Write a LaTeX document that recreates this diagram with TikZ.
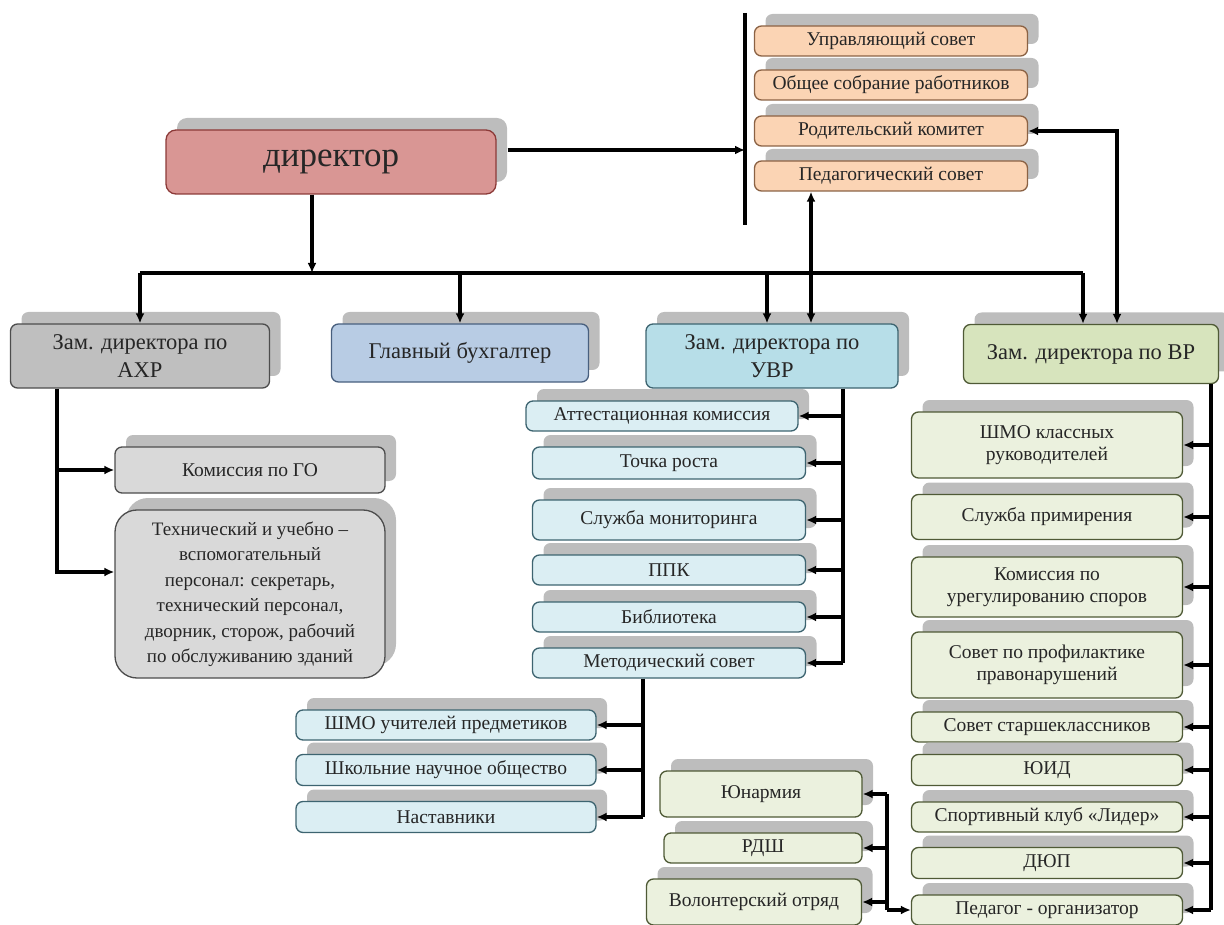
\documentclass[tikz,border=0pt]{standalone}
\usepackage{fontspec}
\setmainfont{Liberation Serif}
\usetikzlibrary{shadows,arrows.meta}
\definecolor{shgray}{HTML}{BDBDBD}
\definecolor{txt}{HTML}{262626}
\definecolor{dirfill}{HTML}{D99694}
\definecolor{dirline}{HTML}{8C3A38}
\definecolor{sovfill}{HTML}{FBD4B4}
\definecolor{sovline}{HTML}{8B6244}
\definecolor{ahrfill}{HTML}{BFBFBF}
\definecolor{ahrline}{HTML}{4D4D4D}
\definecolor{greyfill}{HTML}{D9D9D9}
\definecolor{bufill}{HTML}{B8CCE4}
\definecolor{buline}{HTML}{485F7E}
\definecolor{uvrfill}{HTML}{B7DEE8}
\definecolor{uvrline}{HTML}{3D6470}
\definecolor{bluefill}{HTML}{DBEEF3}
\definecolor{vrfill}{HTML}{D7E4BD}
\definecolor{vrline}{HTML}{4F5A36}
\definecolor{greenfill}{HTML}{EBF1DE}

\begin{document}
\begin{tikzpicture}[x=1pt,y=-1pt,
  box/.style={draw, line width=1.3pt, rounded corners=7pt, align=center, text=txt, inner sep=2pt,
    drop shadow={shadow xshift=11pt, shadow yshift=12pt, fill=shgray, opacity=1}},
  sz/.style 2 args={minimum width=#1, minimum height=#2},
  small/.style={box, font=\fontsize{19.5}{22}\selectfont},
  big/.style={box, font=\fontsize{22.5}{28}\selectfont},
  ln/.style={line width=3.2pt},
  arr/.style={line width=3.2pt, -{Latex[length=10pt,width=9pt]}},
  dbl/.style={line width=3.2pt, {Latex[length=10pt,width=9pt]}-{Latex[length=10pt,width=9pt]}}]
\useasboundingbox (0,0) rectangle (1224,925);

% director
\node[box, fill=dirfill, draw=dirline, rounded corners=10pt, sz={330pt}{64pt}, font=\fontsize{35}{38}\selectfont] (dir) at (331,162) {директор};

% councils
\node[small, fill=sovfill, draw=sovline, sz={273pt}{30pt}] (us) at (891,41) {Управляющий совет};
\node[small, fill=sovfill, draw=sovline, sz={273pt}{30pt}] (os) at (891,85) {Общее собрание работников};
\node[small, fill=sovfill, draw=sovline, sz={273pt}{30pt}] (rk) at (891,131) {Родительский комитет};
\node[small, fill=sovfill, draw=sovline, sz={273pt}{30pt}] (ps) at (891,176) {Педагогический совет};
\coordinate (bartop) at (745,13);
\coordinate (barbot) at (745,225);
\draw[ln] (bartop) -- (barbot);
\draw[arr] ([shift={(11pt,12pt)}]dir.east) -- ([yshift=12pt]dir.east -| bartop);

% deputies
\node[big, fill=ahrfill, draw=ahrline, sz={259pt}{64pt}] (ahr) at (140,356) {Зам. директора по\\АХР};
\node[big, fill=bufill, draw=buline, sz={257pt}{58pt}] (gb) at (460,353) {Главный бухгалтер};
\node[big, fill=uvrfill, draw=uvrline, sz={252pt}{64pt}] (uvr) at (772,356) {Зам. директора по\\УВР};
\node[big, fill=vrfill, draw=vrline, sz={255pt}{59pt}] (vr) at (1091,354) {Зам. директора по ВР};

\coordinate (bus) at (312,273);
\draw[arr] ([xshift=-19pt]dir.south) -- (bus);
\draw[ln] (ahr.north |- bus) -- ([xshift=-8pt]vr.north |- bus);
\draw[arr] (ahr.north |- bus) -- (ahr.north);
\draw[arr] (gb.north |- bus) -- (gb.north);
\draw[arr] ([xshift=-5pt]uvr.north |- bus) -- ([xshift=-5pt]uvr.north);
\draw[arr] ([xshift=-8pt]vr.north |- bus) -- ([xshift=-8pt]vr.north);
\draw[dbl] ([xshift=39pt]uvr.north) -- ([xshift=39pt]uvr.north |- ps.south);
\draw[dbl] ([xshift=26pt]vr.north) |- (rk.east);

% AHR
\node[small, fill=greyfill, draw=ahrline, sz={270pt}{46pt}] (go) at (250,470) {Комиссия по ГО};
\node[small, fill=greyfill, draw=ahrline, rounded corners=22pt, sz={270pt}{168pt}, font=\fontsize{19}{25.5}\selectfont] (tp) at (250,594) {Технический и учебно –\\вспомогательный\\персонал: секретарь,\\технический персонал,\\дворник, сторож, рабочий\\по обслуживанию зданий};
\draw[arr] ([xshift=-83pt]ahr.south) |- ([yshift=22pt]tp.west);
\draw[arr] ([xshift=-83pt]ahr.south |- go.west) -- (go.west);

% UVR
\node[small, fill=bluefill, draw=uvrline, sz={272pt}{30pt}] (att) at (662,416) {Аттестационная комиссия};
\node[small, fill=bluefill, draw=uvrline, sz={273pt}{32pt}] (tr) at (669,463) {Точка роста};
\node[small, fill=bluefill, draw=uvrline, sz={273pt}{40pt}] (sm) at (669,520) {Служба мониторинга};
\node[small, fill=bluefill, draw=uvrline, sz={273pt}{30pt}] (ppk) at (669,570) {ППК};
\node[small, fill=bluefill, draw=uvrline, sz={273pt}{30pt}] (bib) at (669,617) {Библиотека};
\node[small, fill=bluefill, draw=uvrline, sz={273pt}{30pt}] (met) at (669,663) {Методический совет};
\draw[ln] ([xshift=71pt]uvr.south) -- ([xshift=71pt]uvr.south |- met.east);
\foreach \n in {att,tr,sm,ppk,bib,met}
  \draw[arr] ([xshift=71pt]uvr.south |- \n.east) -- (\n.east);

\node[small, fill=bluefill, draw=uvrline, sz={300pt}{30pt}] (shu) at (446,725) {ШМО учителей предметиков};
\node[small, fill=bluefill, draw=uvrline, sz={300pt}{31pt}] (nau) at (446,770) {Школьние научное общество};
\node[small, fill=bluefill, draw=uvrline, sz={300pt}{31pt}] (nast) at (446,817) {Наставники};
\draw[ln] ([xshift=-26pt]met.south) -- ([xshift=-26pt]met.south |- nast.east);
\foreach \n in {shu,nau,nast}
  \draw[arr] ([xshift=-26pt]met.south |- \n.east) -- (\n.east);

% VR
\node[small, fill=greenfill, draw=vrline, sz={271pt}{66pt}] (shk) at (1047,445) {ШМО классных\\руководителей};
\node[small, fill=greenfill, draw=vrline, sz={271pt}{45pt}] (sp) at (1047,517) {Служба примирения};
\node[small, fill=greenfill, draw=vrline, sz={271pt}{60pt}] (ks) at (1047,587) {Комиссия по\\урегулированию споров};
\node[small, fill=greenfill, draw=vrline, sz={271pt}{66pt}] (pp) at (1047,665) {Совет по профилактике\\правонарушений};
\node[small, fill=greenfill, draw=vrline, sz={271pt}{30pt}] (ss) at (1047,727) {Совет старшеклассников};
\node[small, fill=greenfill, draw=vrline, sz={271pt}{31pt}] (yuid) at (1047,770) {ЮИД};
\node[small, fill=greenfill, draw=vrline, sz={271pt}{30pt}] (sk) at (1047,817) {Спортивный клуб «Лидер»};
\node[small, fill=greenfill, draw=vrline, sz={271pt}{31pt}] (dyup) at (1047,863) {ДЮП};
\node[small, fill=greenfill, draw=vrline, sz={271pt}{30pt}] (po) at (1047,910) {Педагог - организатор};
\draw[ln] ([xshift=120pt]vr.south) -- ([xshift=120pt]vr.south |- po.east);
\foreach \n in {shk,sp,ks,pp,ss,yuid,sk,dyup,po}
  \draw[arr] ([xshift=120pt]vr.south |- \n.east) -- (\n.east);

\node[small, fill=greenfill, draw=vrline, sz={202pt}{46pt}] (yun) at (761,794) {Юнармия};
\node[small, fill=greenfill, draw=vrline, sz={198pt}{30pt}] (rdsh) at (763,848) {РДШ};
\node[small, fill=greenfill, draw=vrline, sz={215pt}{46pt}] (vol) at (754,902) {Волонтерский отряд};
\coordinate (pj) at (887,910);
\draw[arr] (pj) -- (po.west);
\draw[ln] (pj) -- (pj |- yun.east);
\foreach \n in {yun,rdsh,vol}
  \draw[arr] (pj |- \n.east) -- (\n.east);
\end{tikzpicture}
\end{document}
